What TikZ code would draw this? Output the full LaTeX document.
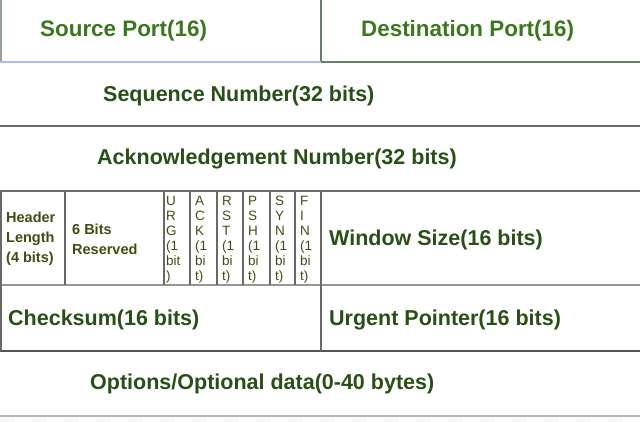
\documentclass[tikz,border=0pt]{standalone}
\usepackage{fontspec}
\setmainfont{Liberation Sans}
\definecolor{topgreen}{RGB}{58,120,30}
\definecolor{labgreen}{RGB}{40,80,22}
\definecolor{flagtxt}{RGB}{62,78,18}
\definecolor{gridgray}{RGB}{105,105,105}
\definecolor{lightblue}{RGB}{165,190,225}
\definecolor{sagegray}{RGB}{105,125,105}
\begin{document}
\begin{tikzpicture}[x=1pt, y=-1pt,
		lbl/.style={anchor=west, inner sep=0pt, text=labgreen, font=\fontsize{21.5}{24}\selectfont\bfseries},
		smalllbl/.style={anchor=west, inner sep=0pt, align=left, text=flagtxt, font=\fontsize{14.5}{20}\selectfont\bfseries},
		flag/.style={anchor=north west, inner sep=0pt, align=left, text=flagtxt, font=\fontsize{13.5}{15}\selectfont},
		l_1/.style={line width=2pt, draw=gridgray}]
		\useasboundingbox (0,0) rectangle (640,422);
		% first row
		\draw[line width=1.5pt, draw=sagegray!70] (0.75,0) -- (0.75,62);
		\draw[line width=1.5pt, draw=sagegray] (321,0) -- (321,62);
		\draw[line width=2pt, draw=lightblue] (0,62) -- (321,62);
		\draw[line width=2pt, draw=sagegray] (321,62) -- (640,62);
		% horizontal rules
		\foreach \y/\g in {126/gridgray, 191/gridgray, 285/gridgray!70, 351/gridgray!80!black, 416/gridgray!50} {
			\draw[line width=2pt, draw=\g] (0,\y) -- (640,\y);
		};
		% flag row columns
		\foreach \x in {1,65,164,190,217,243,270,295,321} {
			\draw[l_1] (\x,191) -- (\x,285);
		};
		\draw[l_1] (1,285) -- (1,351);
		\draw[l_1] (321,285) -- (321,351);
		% bottom strip
		\draw[line width=4pt, draw=gray!7, dash pattern=on 15pt off 17pt] (0,420) -- (640,420);
		
		\node[lbl, text=topgreen, font=\fontsize{22.4}{24}\selectfont\bfseries] (src) at (40,31) {Source Port(16)};
		\node[lbl, text=topgreen, font=\fontsize{22.4}{24}\selectfont\bfseries] (dst) at (361,31) {Destination Port(16)};
		\node[lbl] (seq) at (103,96) {Sequence Number(32 bits)};
		\node[lbl] (ack) at (97,159) {Acknowledgement Number(32 bits)};
		\node[smalllbl] (hlen) at (6,239) {Header\\Length\\(4 bits)};
		\node[smalllbl] (res) at (72,239) {6 Bits\\Reserved};
		\node[flag] (urg) at (166,196) {U\\R\\G\\(1\\bit\\)};
		\foreach \a/\b/\c/\x [count=\p] in {A/C/K/190, R/S/T/217, P/S/H/243, S/Y/N/270, F/I/N/295} {
			\node[flag] (f\p) at (\x+5,196) {\a\\\b\\\c\\(1\\bi\\t)};
		};
		\node[lbl] (win) at (329,240) {Window Size(16 bits)};
		\node[lbl] (chk) at (8,320) {Checksum(16 bits)};
		\node[lbl] (urp) at (329,320) {Urgent Pointer(16 bits)};
		\node[lbl] (opt) at (90,384) {Options/Optional data(0-40 bytes)};
\end{tikzpicture}
\end{document}
